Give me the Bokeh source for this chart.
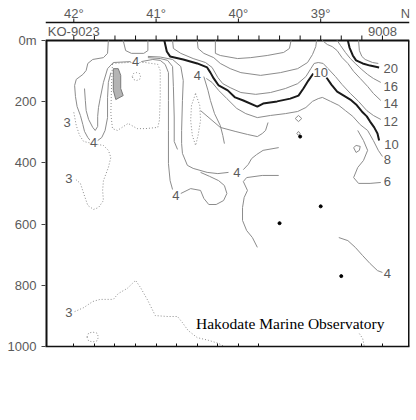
from bokeh.plotting import figure
from bokeh.models import Range1d, FixedTicker, LinearAxis
from bokeh.core.properties import value
from bokeh.embed import file_html
from bokeh.resources import INLINE

# ---- axes data ----
stations = [42.0, 41.75, 41.5, 41.25, 41.0, 40.75, 40.5, 40.25, 40.0, 39.75, 39.5, 39.25, 39.0, 38.75, 38.5, 38.25]
bottom_stations = [42.0, 41.75, 41.5, 41.25, 41.0, 40.75, 40.5, 40.25, 40.0, 39.75, 38.5, 38.25]
deg_ticks = [42, 41, 40, 39]
deg_labels = ["42\u00b0", "41\u00b0", "40\u00b0", "39\u00b0"]
north_label = "N"
depth_ticks = [0, 200, 400, 600, 800, 1000]
station_names = ["KO-9023", "9008"]
station_name_lats = [42.0, 38.25]

# station bottom observation points (lat, depth)
bottom_obs = [(39.25, 314), (39.0, 542), (39.5, 597), (38.75, 770)]

# ---- contour lines (lat, depth) ----
iso20 = [(38.67, 0), (38.65, 23), (38.61, 49), (38.57, 65), (38.49, 75), (38.40, 82), (38.29, 88)]
iso22 = [(38.54, 0), (38.53, 33), (38.50, 52), (38.46, 62), (38.37, 72), (38.30, 75)]
iso16 = [(38.80, 0), (38.76, 16), (38.70, 39), (38.64, 59), (38.58, 75), (38.50, 95), (38.43, 111), (38.36, 124), (38.27, 137)]
iso14_r = [(38.98, 0), (38.92, 13), (38.86, 20), (38.80, 33), (38.74, 56), (38.67, 75), (38.60, 101), (38.52, 124), (38.43, 150), (38.36, 173), (38.27, 196)]
iso14_l = [(40.50, 0), (40.49, 26), (40.42, 42), (40.30, 56), (40.22, 75), (40.10, 92), (39.97, 105), (39.73, 114), (39.49, 105), (39.28, 92), (39.16, 72), (39.10, 46), (39.06, 20), (39.05, 0)]
iso16_u = [(40.28, 0), (40.28, 42), (40.22, 49), (40.01, 59), (39.85, 56), (39.65, 49), (39.45, 39), (39.38, 26), (39.36, 0)]
iso12 = [(40.80, 0), (40.79, 26), (40.70, 42), (40.55, 59), (40.40, 72), (40.32, 88), (40.25, 121), (40.19, 141), (40.10, 154), (39.97, 170), (39.79, 176), (39.61, 170), (39.43, 157), (39.28, 141), (39.18, 118), (39.12, 92), (39.08, 75), (39.03, 72), (38.97, 75), (38.91, 92), (38.82, 118), (38.74, 144), (38.64, 173), (38.54, 199), (38.44, 229), (38.36, 245), (38.27, 258)]
iso10_a = [(40.90, 0), (40.87, 36), (40.83, 52), (40.67, 62), (40.50, 75), (40.38, 88), (40.34, 105), (40.30, 124), (40.24, 147), (40.13, 163), (40.04, 186), (39.94, 196), (39.77, 216), (39.70, 206), (39.53, 199), (39.37, 190), (39.27, 180), (39.21, 157), (39.15, 131), (39.09, 108)]
iso10_b = [(38.93, 121), (38.87, 144), (38.80, 167), (38.72, 180), (38.64, 193), (38.57, 209), (38.50, 232), (38.44, 248), (38.40, 265), (38.35, 284), (38.31, 304), (38.29, 327)]
iso8 = [(38.25, 379), (38.30, 359), (38.36, 327), (38.43, 294), (38.52, 275), (38.61, 248), (38.70, 229), (38.78, 212), (38.88, 199), (38.98, 186), (39.03, 190), (39.10, 199), (39.18, 219), (39.28, 232), (39.43, 239), (39.61, 245), (39.77, 252), (39.91, 239), (40.02, 222), (40.14, 190), (40.24, 163), (40.32, 137), (40.39, 124)]
iso6 = [(38.27, 464), (38.40, 467), (38.54, 467), (38.60, 448), (38.55, 415), (38.48, 392), (38.43, 359), (38.48, 327), (38.55, 294)]
iso6_u = [(40.46, 229), (40.22, 284), (40.04, 297), (39.89, 307), (39.77, 314), (39.71, 304), (39.67, 294), (39.64, 268)]
iso4_outer_a = [(41.58, 0), (41.59, 42), (41.64, 56), (41.77, 62), (41.83, 75), (41.85, 98), (41.89, 111), (41.97, 127), (41.99, 147), (41.98, 183), (41.96, 216), (41.92, 245), (41.89, 275), (41.87, 297), (41.83, 317), (41.80, 327)]
iso4_outer_b = [(41.71, 327), (41.66, 317), (41.62, 294), (41.59, 252), (41.59, 186), (41.58, 137), (41.55, 105)]
iso4_inner = [(41.87, 157), (41.86, 196), (41.85, 229), (41.82, 258), (41.77, 284), (41.74, 294), (41.71, 281), (41.71, 248), (41.70, 219), (41.68, 190), (41.64, 137), (41.59, 92), (41.52, 72), (41.31, 69)]
iso4_front = [(41.18, 69), (41.04, 62), (40.95, 65), (40.89, 78), (40.85, 105), (40.85, 196), (40.85, 294), (40.85, 402), (40.83, 458), (40.80, 487)]
iso4_mid = [(41.10, 56), (40.95, 59), (40.86, 65), (40.80, 85), (40.79, 150), (40.78, 250), (40.78, 330), (40.74, 356)]
iso4_lobe = [(40.70, 500), (40.58, 484), (40.46, 490), (40.42, 516), (40.36, 536), (40.27, 536), (40.18, 523), (40.14, 500), (40.17, 474), (40.24, 458), (40.35, 444), (40.46, 431)]
iso4_p = [(41.10, 52), (40.95, 54), (40.80, 62), (40.70, 85), (40.67, 131), (40.68, 196), (40.69, 294), (40.69, 337), (40.68, 369), (40.62, 408), (40.55, 418), (40.38, 431), (40.25, 435), (40.12, 431)]
iso4_p_right = [(39.94, 422), (39.88, 405), (39.84, 386), (39.78, 373), (39.70, 359), (39.51, 350)]
iso4_r = [(39.51, 441), (39.71, 441), (39.90, 448), (39.94, 461), (39.89, 490), (39.93, 513), (39.95, 546), (39.95, 588), (39.90, 621), (39.83, 644), (39.77, 676)]
iso4_x = [(40.42, 118), (40.37, 163), (40.34, 196), (40.29, 239), (40.22, 278), (40.19, 310), (40.17, 337)]
iso4_se = [(38.78, 644), (38.67, 654), (38.58, 676), (38.49, 703), (38.40, 729), (38.31, 752), (38.25, 758)]
iso4_topu = [(41.40, 0), (41.37, 33), (41.30, 42), (41.15, 42), (41.10, 33), (41.10, 0)]
loop_a = [(39.31, 255), (39.27, 245), (39.23, 255), (39.27, 265), (39.31, 255)]
loop_b = [(39.29, 304), (39.27, 297), (39.25, 304), (39.27, 310), (39.29, 304)]
loop_c = [(38.60, 350), (38.57, 343), (38.52, 346), (38.53, 359), (38.57, 366), (38.60, 350)]

iso5_pool = [(41.53, 75), (41.35, 72), (41.13, 72), (40.98, 78), (40.95, 98), (40.95, 186), (40.96, 261), (40.98, 284), (41.13, 288), (41.23, 288), (41.34, 271), (41.47, 294), (41.53, 288), (41.55, 239), (41.54, 131), (41.53, 75)]
iso5_lens = [(40.52, 173), (40.47, 212), (40.46, 261), (40.49, 310), (40.52, 343), (40.56, 310), (40.58, 261), (40.57, 212), (40.52, 173)]
iso5_ring = [(41.29, 118), (41.275, 108), (41.24, 105), (41.20, 108), (41.19, 118), (41.20, 127), (41.24, 131), (41.275, 127), (41.29, 118)]
iso3_a = [(42.00, 235), (41.97, 278), (41.93, 310), (41.88, 330), (41.77, 337), (41.64, 343), (41.58, 359), (41.55, 382), (41.58, 415), (41.64, 458), (41.65, 490), (41.64, 523), (41.70, 546), (41.76, 552), (41.83, 539), (41.88, 500), (41.92, 467), (41.99, 451)]
iso3_b = [(41.99, 886), (41.88, 873), (41.77, 853), (41.68, 846), (41.52, 846), (41.46, 827), (41.35, 810), (41.25, 784), (41.19, 807), (41.10, 850), (41.01, 899), (40.86, 902), (40.74, 902), (40.68, 922), (40.61, 948), (40.50, 971), (40.36, 980), (40.24, 990), (40.17, 1000)]
iso3_c = [(38.53, 958), (38.49, 974), (38.47, 1000)]
iso3_ring = [(41.84, 969), (41.82, 956), (41.77, 953), (41.72, 956), (41.70, 969), (41.72, 982), (41.77, 985), (41.82, 982), (41.84, 969)]

warm_patch = [(41.52, 92), (41.46, 92), (41.43, 114), (41.43, 157), (41.40, 180), (41.49, 193), (41.52, 163), (41.52, 121)]

# contour labels (text, lat, depth)
contour_labels = [
    ("3", 42.08, 268), ("3", 42.06, 451), ("3", 42.06, 889),
    ("4", 41.76, 333), ("4", 41.25, 69), ("4", 40.76, 507), ("4", 40.50, 114),
    ("4", 40.02, 431), ("4", 38.19, 761),
    ("10", 39.00, 105), ("10", 38.14, 340),
    ("20", 38.15, 92), ("16", 38.15, 150), ("14", 38.15, 206), ("12", 38.15, 265),
    ("8", 38.19, 389), ("6", 38.19, 461),
]

thin_lines = [iso22, iso16, iso14_r, iso14_l, iso16_u, iso12, iso8, iso6, iso6_u,
              iso4_outer_a, iso4_outer_b, iso4_inner, iso4_front, iso4_mid, iso4_lobe, iso4_p,
              iso4_p_right, iso4_r, iso4_x, iso4_se, iso4_topu, loop_a, loop_b, loop_c]
thick_lines = [iso20, iso10_a, iso10_b]
dotted_lines = [iso5_pool, iso5_lens, iso5_ring, iso3_a, iso3_b, iso3_c, iso3_ring]

def xs_ys(lines):
    return [[pt[0] for pt in ln] for ln in lines], [[pt[1] for pt in ln] for ln in lines]

FONT = "Liberation Sans"
GREY_TXT = "#5a5a5a"
INK = "#111111"

# vertical layout: the frame reaches up to the page top; the section itself spans 0..1000 m
LAT_W, LAT_E = 42.344, 37.921
TOP = -130.7          # page top
DEG_LINE = -58.8      # latitude scale line
DEG_TICK = 13.1       # its tick length (m-equivalent)
DEG_TEXT = -89.0
ST_TICK = 16.3
ST_TEXT = -28.0

p = figure(width=416, height=420,
           x_range=Range1d(LAT_W, LAT_E), y_range=Range1d(1000, TOP),
           output_backend="svg", toolbar_location=None,
           min_border_left=45, min_border_right=7, min_border_top=0, min_border_bottom=74,
           x_axis_location=None)
p.grid.visible = False
p.outline_line_color = None
p.background_fill_color = "white"
p.border_fill_color = "white"

# left depth axis
ya = p.yaxis[0]
ya.ticker = FixedTicker(ticks=depth_ticks)
ya.major_label_overrides = {0: "0m"}
ya.major_tick_out = 4
ya.major_tick_in = 0
ya.minor_tick_line_color = None
ya.axis_line_color = None
ya.major_tick_line_color = "#444444"
ya.major_label_standoff = 5
ya.major_label_text_font = FONT
ya.major_label_text_font_size = "13px"
ya.major_label_text_color = GREY_TXT

# bottom station ticks (inward)
bax = LinearAxis(ticker=FixedTicker(ticks=bottom_stations))
bax.major_label_overrides = {s: "" for s in bottom_stations}
bax.major_label_text_font_size = "1px"
bax.major_tick_in = 3
bax.major_tick_out = 0
bax.minor_tick_line_color = None
bax.axis_line_color = INK
bax.axis_line_width = 1.5
bax.major_tick_line_color = INK
p.add_layout(bax, "below")

# section frame (top, left, right)
p.segment(x0=[LAT_W], y0=[0], x1=[LAT_E], y1=[0], line_color=INK, line_width=2)
p.segment(x0=[LAT_W], y0=[0], x1=[LAT_W], y1=[1000], line_color=INK, line_width=4)
p.segment(x0=[LAT_E], y0=[0], x1=[LAT_E], y1=[1000], line_color=INK, line_width=3)

# station ticks on top of the section
p.segment(x0=stations, y0=[0] * len(stations), x1=stations, y1=[-ST_TICK] * len(stations),
          line_color=INK, line_width=1)
p.text(station_name_lats, [ST_TEXT] * 2, text=station_names,
       text_font=value(FONT), text_font_size="13px", text_color=GREY_TXT,
       text_align="center", text_baseline="middle")

# latitude scale
p.segment(x0=[LAT_W], y0=[DEG_LINE], x1=[LAT_E], y1=[DEG_LINE], line_color=INK, line_width=1.5)
p.segment(x0=deg_ticks, y0=[DEG_LINE] * 4, x1=deg_ticks, y1=[DEG_LINE - DEG_TICK] * 4,
          line_color=INK, line_width=1)
p.text(deg_ticks + [37.97], [DEG_TEXT] * 5, text=deg_labels + [north_label],
       text_font=value(FONT), text_font_size="13px", text_color=GREY_TXT,
       text_align="center", text_baseline="middle")

# warm patch
p.patch([q[0] for q in warm_patch], [q[1] for q in warm_patch],
        fill_color="#b4b4b4", line_color="#7a7a7a", line_width=1)

xs, ys = xs_ys(thin_lines)
p.multi_line(xs, ys, line_color="#8c8c8c", line_width=1)
xs, ys = xs_ys(dotted_lines)
p.multi_line(xs, ys, line_color="#8c8c8c", line_width=1, line_dash="1 2")
xs, ys = xs_ys(thick_lines)
p.multi_line(xs, ys, line_color="#1a1a1a", line_width=2)

p.scatter([q[0] for q in bottom_obs], [q[1] for q in bottom_obs], size=3, color="black")

p.text([c[1] for c in contour_labels], [c[2] for c in contour_labels], text=[c[0] for c in contour_labels],
       text_font=value(FONT), text_font_size="13px", text_color=GREY_TXT,
       text_align="center", text_baseline="middle",
       background_fill_color="white")

p.text([39.37], [925], text=["Hakodate Marine Observatory"],
       text_font=value("Liberation Serif"), text_font_size="15.5px", text_color="black",
       text_align="center", text_baseline="middle")

open("out.html", "w").write(file_html(p, INLINE))
